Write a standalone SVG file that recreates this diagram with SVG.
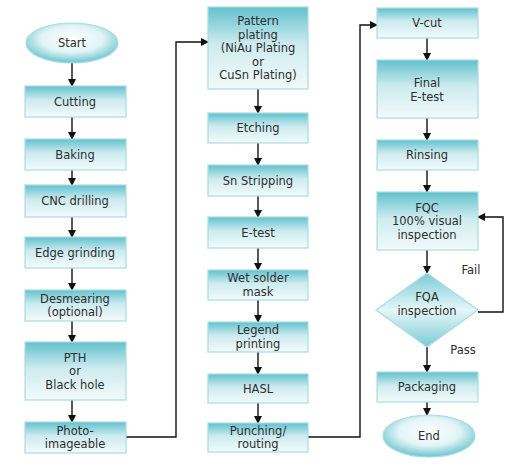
<svg xmlns="http://www.w3.org/2000/svg" width="522" height="468" viewBox="0 0 522 468">
<style>
.box{fill:url(#g);stroke:#a9dce3;stroke-width:1.2}
.t{font-family:"DejaVu Sans",Verdana,sans-serif;font-size:11.5px;fill:#2e2e2e;text-anchor:middle}
.lbl{font-family:"DejaVu Sans",Verdana,sans-serif;font-size:11.5px;fill:#2e2e2e;text-anchor:middle}
.c{fill:none;stroke:#111;stroke-width:1.4}
</style>
<defs>
<linearGradient id="g" x1="0" y1="0" x2="0" y2="1">
<stop offset="0" stop-color="#62c1cd"/>
<stop offset="0.45" stop-color="#cdebef"/>
<stop offset="1" stop-color="#f3fafb"/>
</linearGradient>
<radialGradient id="e" cx="0.5" cy="0.4" r="0.6">
<stop offset="0" stop-color="#ffffff"/>
<stop offset="0.55" stop-color="#e2f4f6"/>
<stop offset="1" stop-color="#6cc4cf"/>
</radialGradient>
<linearGradient id="d" x1="0" y1="0" x2="0" y2="1">
<stop offset="0" stop-color="#7acbd5"/>
<stop offset="0.5" stop-color="#e6f6f8"/>
<stop offset="1" stop-color="#7acbd5"/>
</linearGradient>
<marker id="a" markerWidth="8" markerHeight="8" refX="7" refY="4" orient="auto" markerUnits="userSpaceOnUse">
<path d="M0,0 L8,4 L0,8 Z" fill="#111"/>
</marker>
</defs>
<rect width="522" height="468" fill="#fff"/>
<g id="connectors">
<path class="c" d="M72,63 V86" marker-end="url(#a)"/>
<path class="c" d="M72,117 V139" marker-end="url(#a)"/>
<path class="c" d="M72,170 V185" marker-end="url(#a)"/>
<path class="c" d="M72,217 V237" marker-end="url(#a)"/>
<path class="c" d="M72,268 V290" marker-end="url(#a)"/>
<path class="c" d="M72,321 V342" marker-end="url(#a)"/>
<path class="c" d="M72,400 V422" marker-end="url(#a)"/>
<path class="c" d="M126,437 H176 V42 H208" marker-end="url(#a)"/>
<path class="c" d="M258,89 V113" marker-end="url(#a)"/>
<path class="c" d="M258,143 V165" marker-end="url(#a)"/>
<path class="c" d="M258,196 V217" marker-end="url(#a)"/>
<path class="c" d="M258,248 V270" marker-end="url(#a)"/>
<path class="c" d="M258,300 V322" marker-end="url(#a)"/>
<path class="c" d="M258,352 V374" marker-end="url(#a)"/>
<path class="c" d="M258,403 V423" marker-end="url(#a)"/>
<path class="c" d="M308,437 H360 V25 H377" marker-end="url(#a)"/>
<path class="c" d="M427,38 V60" marker-end="url(#a)"/>
<path class="c" d="M427,118 V140" marker-end="url(#a)"/>
<path class="c" d="M427,170 V192" marker-end="url(#a)"/>
<path class="c" d="M427,250 V273" marker-end="url(#a)"/>
<path class="c" d="M478,312 H503 V217 H478" marker-end="url(#a)"/>
<path class="c" d="M427,347 V372" marker-end="url(#a)"/>
<path class="c" d="M427,402 V415" marker-end="url(#a)"/>
<text class="lbl" x="471" y="274">Fail</text>
<text class="lbl" x="463" y="354">Pass</text>
</g>
<g id="start"><ellipse cx="72" cy="43" rx="46" ry="20" fill="url(#e)" stroke="#a9dce3" stroke-width="1.2"/><text class="t" x="72" y="47">Start</text></g>
<g id="cutting"><rect class="box" x="25" y="86" width="101" height="31"/><text class="t" x="75" y="105.5">Cutting</text></g>
<g id="baking"><rect class="box" x="25" y="139" width="101" height="31"/><text class="t" x="75" y="158.5">Baking</text></g>
<g id="cnc"><rect class="box" x="25" y="185" width="101" height="32"/><text class="t" x="75" y="205">CNC drilling</text></g>
<g id="edge"><rect class="box" x="25" y="237" width="101" height="31"/><text class="t" x="75" y="256.5">Edge grinding</text></g>
<g id="desmear"><rect class="box" x="25" y="290" width="101" height="31"/><text class="t" x="75" y="302.5">Desmearing</text><text class="t" x="75" y="316">(optional)</text></g>
<g id="pth"><rect class="box" x="25" y="342" width="101" height="58"/><text class="t" x="75" y="361.5">PTH</text><text class="t" x="75" y="375">or</text><text class="t" x="75" y="388.5">Black hole</text></g>
<g id="photo"><rect class="box" x="25" y="422" width="101" height="31"/><text class="t" x="75" y="434.5">Photo-</text><text class="t" x="75" y="448">imageable</text></g>
<g id="pattern"><rect class="box" x="208" y="7" width="100" height="82"/><text class="t" x="258" y="25">Pattern</text><text class="t" x="258" y="38.5">plating</text><text class="t" x="258" y="52">(NiAu Plating</text><text class="t" x="258" y="65.5">or</text><text class="t" x="258" y="79">CuSn Plating)</text></g>
<g id="etching"><rect class="box" x="208" y="113" width="100" height="30"/><text class="t" x="258" y="132">Etching</text></g>
<g id="sn"><rect class="box" x="208" y="165" width="100" height="31"/><text class="t" x="258" y="184.5">Sn Stripping</text></g>
<g id="etest"><rect class="box" x="208" y="217" width="100" height="31"/><text class="t" x="258" y="236.5">E-test</text></g>
<g id="wet"><rect class="box" x="208" y="270" width="100" height="30"/><text class="t" x="258" y="282">Wet solder</text><text class="t" x="258" y="295.5">mask</text></g>
<g id="legend"><rect class="box" x="208" y="322" width="100" height="30"/><text class="t" x="258" y="334">Legend</text><text class="t" x="258" y="347.5">printing</text></g>
<g id="hasl"><rect class="box" x="208" y="374" width="100" height="29"/><text class="t" x="258" y="392.5">HASL</text></g>
<g id="punch"><rect class="box" x="208" y="423" width="100" height="29"/><text class="t" x="258" y="434.5">Punching/</text><text class="t" x="258" y="448">routing</text></g>
<g id="vcut"><rect class="box" x="377" y="8" width="101" height="30"/><text class="t" x="427" y="27">V-cut</text></g>
<g id="final"><rect class="box" x="377" y="60" width="101" height="58"/><text class="t" x="427" y="87">Final</text><text class="t" x="427" y="101">E-test</text></g>
<g id="rinsing"><rect class="box" x="377" y="140" width="101" height="30"/><text class="t" x="427" y="159">Rinsing</text></g>
<g id="fqc"><rect class="box" x="377" y="192" width="101" height="58"/><text class="t" x="427" y="211.5">FQC</text><text class="t" x="427" y="225">100% visual</text><text class="t" x="427" y="238.5">inspection</text></g>
<g id="fqa"><polygon points="427,273 478,310 427,347 376,310" fill="url(#d)" stroke="#a9dce3" stroke-width="1.2"/><text class="t" x="427" y="301">FQA</text><text class="t" x="427" y="315">inspection</text></g>
<g id="packaging"><rect class="box" x="377" y="372" width="101" height="30"/><text class="t" x="427" y="391">Packaging</text></g>
<g id="end"><ellipse cx="429" cy="436" rx="46" ry="21" fill="url(#e)" stroke="#a9dce3" stroke-width="1.2"/><text class="t" x="429" y="440">End</text></g>
</svg>
